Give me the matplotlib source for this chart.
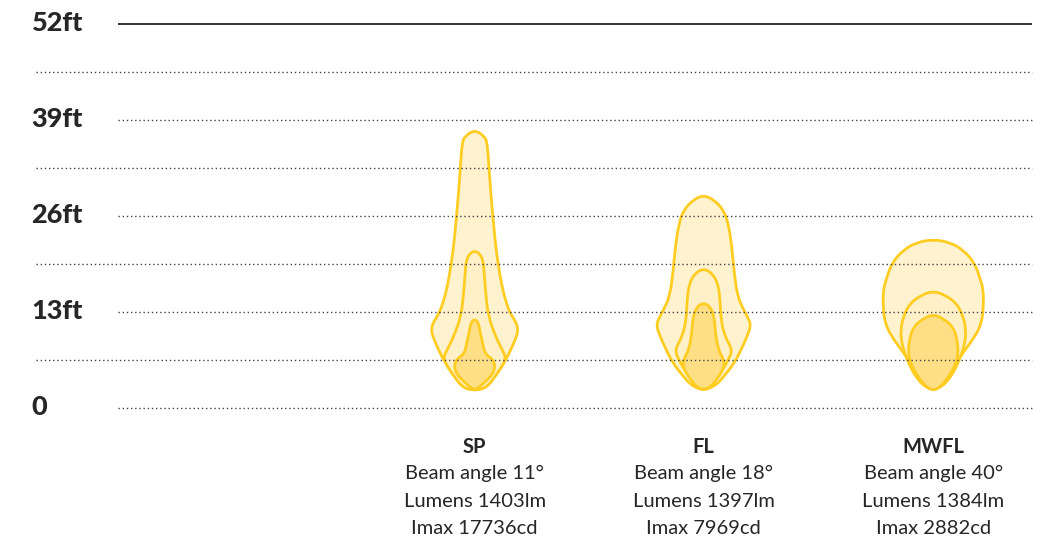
import numpy as np
import matplotlib.pyplot as plt
from matplotlib.path import Path
from matplotlib.patches import PathPatch

plt.rcParams['font.family'] = ['Lato', 'DejaVu Sans']

# y-axis ticks (ft)
tick_values = [0, 13, 26, 39, 52]
tick_labels = ['0', '13ft', '26ft', '39ft', '52ft']
minor_values = [6.5, 19.5, 32.5, 45.5]

# beam categories
beams = ['SP', 'FL', 'MWFL']
beam_angles = [11, 18, 40]
lumens = [1403, 1397, 1384]
imax = [17736, 7969, 2882]
beam_x = [59.4, 90.4, 121.5]  # centre of each beam (ft)

# beam outlines: (height ft, half width ft), bottom -> top, for outer / mid / inner isolux
sp_outer = [(2.44, 0), (2.55, 0.9), (3.0, 1.8), (4.24, 2.75), (6.6, 4.29), (8.75, 5.28),
            (9.88, 5.73), (10.8, 5.87), (11.7, 5.55), (12.8, 4.83), (14.2, 4.29), (16.4, 3.7),
            (19.6, 3.16), (22.3, 2.8), (29.1, 2.17), (34.5, 1.81), (35.8, 1.67), (36.7, 1.44),
            (37.7, 0)]
sp_mid = [(2.44, 0), (2.55, 0.9), (3.0, 1.8), (4.24, 2.75), (6.6, 4.33), (7.85, 3.75),
          (9.66, 2.84), (12.4, 1.85), (15.5, 1.49), (18.7, 1.26), (20.0, 1.13), (20.9, 0.68),
          (21.3, 0)]
sp_inner = [(2.44, 0), (2.89, 0.68), (3.79, 1.7), (4.7, 2.5), (5.6, 2.75), (6.2, 2.62),
            (6.7, 2.3), (7.4, 1.35), (8.76, 1.1), (10.1, 0.77), (11.5, 0.54), (12.1, 0)]

fl_outer = [(2.44, 0), (2.7, 0.9), (3.3, 1.9), (4.24, 2.7), (6.05, 4.15), (8.3, 5.28),
            (10.1, 6.05), (11.1, 6.35), (11.9, 6.19), (13.3, 5.42), (15.1, 4.6), (18.2, 4.15),
            (21.8, 3.84), (25.0, 3.34), (26.8, 2.71), (28.17, 1.44), (28.84, 0)]
fl_mid = [(2.44, 0), (3.79, 1.44), (5.15, 2.57), (6.5, 3.34), (7.85, 3.93), (9.66, 2.89),
          (11.9, 2.35), (15.1, 2.21), (16.9, 1.9), (18.2, 1.22), (18.9, 0)]
fl_inner = [(2.44, 0), (2.89, 0.99), (3.79, 1.7), (4.7, 2.35), (5.6, 2.75), (6.5, 2.75),
            (7.85, 2.0), (10.1, 1.6), (12.36, 1.44), (13.72, 0.9), (14.26, 0)]

mwfl_outer = [(2.44, 0), (2.89, 0.9), (4.24, 2.03), (6.05, 3.07), (7.85, 4.29), (9.66, 5.64),
              (11.5, 6.54), (13.7, 6.8), (16.0, 6.77), (17.3, 6.41), (19.6, 5.64), (21.4, 4.06),
              (22.4, 2.3), (22.84, 0)]
mwfl_mid = [(2.44, 0), (2.89, 1.13), (3.79, 2.03), (5.15, 2.93), (6.95, 3.7), (8.76, 4.29),
            (10.56, 4.42), (12.4, 4.06), (14.2, 3.16), (15.3, 1.58), (15.84, 0)]
mwfl_inner = [(2.44, 0), (2.66, 0.68), (3.56, 1.58), (4.7, 2.35), (6.05, 3.07), (7.4, 3.39),
              (9.2, 3.25), (11.0, 2.71), (12.1, 1.35), (12.68, 0)]

outlines = [(sp_outer, sp_mid, sp_inner),
            (fl_outer, fl_mid, fl_inner),
            (mwfl_outer, mwfl_mid, mwfl_inner)]

fills = ['#FFF2CF', '#FFF0C8', '#FFDF86']
edge = '#FFCD22'


def beam_path(profile, cx):
    """Closed smooth outline (quadratic B-spline) from a half-width profile."""
    left = [(cx - w, h) for h, w in profile]
    right = [(cx + w, h) for h, w in profile[::-1]][1:-1]
    q = np.array(left + right)
    m = (q + np.roll(q, -1, axis=0)) / 2
    verts = [m[-1]]
    codes = [Path.MOVETO]
    for i in range(len(q)):
        verts += [q[i], m[i]]
        codes += [Path.CURVE3, Path.CURVE3]
    verts.append(m[-1])
    codes.append(Path.CLOSEPOLY)
    return Path(verts, codes)


fig = plt.figure(figsize=(10.55, 5.42), dpi=100)
ax = fig.add_axes([36 / 1055, 134 / 542, 996 / 1055, 384 / 542])
xmax = 996 / 7.385
ax.set_xlim(0, xmax)
ax.set_ylim(0, 52)
ax.axis('off')

# grid lines
for v in minor_values:
    ax.hlines(v, 0, xmax, colors='#444444', linewidth=1, linestyles=(0, (1, 2)), clip_on=False)
for v in tick_values[:-1]:
    ax.hlines(v, 11.1, xmax, colors='#444444', linewidth=1, linestyles=(0, (1, 2)), clip_on=False)
ax.hlines(52, 11.1, xmax, colors='#222222', linewidth=1.3, clip_on=False)

for v, lab in zip(tick_values, tick_labels):
    ax.text(-0.6, v + 0.2, lab, ha='left', va='center', fontsize=19.5, fontweight='black',
            color='#262626', clip_on=False)

# beams
for cx, shapes in zip(beam_x, outlines):
    for prof, fc in zip(shapes, fills):
        ax.add_patch(PathPatch(beam_path(prof, cx), facecolor=fc, edgecolor=edge,
                               linewidth=2, joinstyle='round'))

# beam captions
for cx, name, ang, lm, cd in zip(beam_x, beams, beam_angles, lumens, imax):
    ax.text(cx, -5.3, name, ha='center', va='center', fontsize=14.5, fontweight='bold',
            color='#262626', clip_on=False)
    ax.text(cx, -8.85, f'Beam angle {ang}°', ha='center', va='center', fontsize=14.5,
            color='#262626', clip_on=False)
    ax.text(cx, -12.6, f'Lumens {lm}lm', ha='center', va='center', fontsize=14.5,
            color='#262626', clip_on=False)
    ax.text(cx, -16.3, f'Imax {cd}cd', ha='center', va='center', fontsize=14.5,
            color='#262626', clip_on=False)

fig.savefig('out.png', dpi=100)
